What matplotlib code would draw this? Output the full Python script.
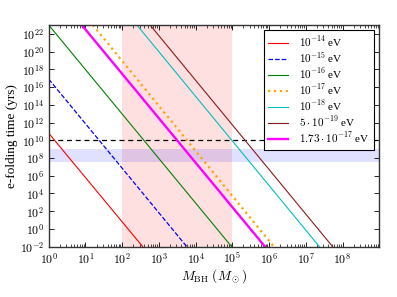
import numpy as np
import matplotlib
matplotlib.use("Agg")
import matplotlib.pyplot as plt
from matplotlib.ticker import LogLocator, NullLocator, FixedLocator

plt.rcParams['font.family'] = ['Liberation Serif', 'DejaVu Serif']
plt.rcParams['mathtext.fontset'] = 'cm'

# ---- data ----
labels = [r'$10^{-14}$ eV', r'$10^{-15}$ eV', r'$10^{-16}$ eV', r'$10^{-17}$ eV',
          r'$10^{-18}$ eV', r'$5\cdot10^{-19}$ eV', r'$1.73\cdot10^{-17}$ eV']
m_start = [1.0, 1.0, 1.0, 10**1.20, 10**2.40, 10**2.76, 10**0.90]
t_start = [10**10.8, 10**16.9, 1e23, 1e23, 1e23, 1e23, 1e23]
m_end = [10**2.56, 10**3.76, 10**4.98, 10**6.13, 10**7.37, 10**7.73, 10**5.89]
t_end = [1e-2, 1e-2, 1e-2, 1e-2, 1e-2, 1e-2, 1e-2]

colors = ['red', 'blue', 'green', 'orange', 'c', '#8b1a1a', 'magenta']
styles = ['-', '--', '-', ':', '-', '-', '-']
widths = [0.8, 0.9, 0.8, 1.6, 0.8, 0.8, 1.7]

mass_band = [1e2, 1e5]
time_band = [10**7.55, 1e9]
t_age = 1e10

xticks = [10.0**k for k in range(0, 9)]
yticks = [10.0**k for k in range(-2, 23, 2)]

fig = plt.figure(figsize=(3.97, 2.97), dpi=100)
ax = fig.add_axes([0.1227, 0.1694, 0.8327, 0.7464])

ax.axvspan(mass_band[0], mass_band[1], color='red', alpha=0.12, lw=0, zorder=0)
ax.axhspan(time_band[0], time_band[1], color='blue', alpha=0.12, lw=0, zorder=0)
ax.axhline(t_age, color='k', ls=(0, (4, 3)), lw=0.9, zorder=1)

for i in range(len(labels)):
    ax.plot([m_start[i], m_end[i]], [t_start[i], t_end[i]], color=colors[i],
            ls=styles[i], lw=widths[i], label=labels[i], zorder=2)

ax.set_xscale('log')
ax.set_yscale('log')
ax.set_xlim(1, 1e9)
ax.set_ylim(1e-2, 1e23)
ax.xaxis.set_major_locator(FixedLocator(xticks))
ax.xaxis.set_minor_locator(LogLocator(base=10, subs=np.arange(2, 10), numticks=30))
ax.yaxis.set_major_locator(FixedLocator(yticks))
ax.yaxis.set_minor_locator(NullLocator())
ax.set_xticklabels([r'$10^{%d}$' % k for k in range(0, 9)])
ax.set_yticklabels([r'$10^{%d}$' % k for k in range(-2, 23, 2)])
ax.tick_params(which='both', direction='in', top=True, right=True, labelsize=8.5)
ax.tick_params(which='major', length=3.5, width=0.6)
ax.tick_params(which='minor', length=2, width=0.5)
for s in ax.spines.values():
    s.set_linewidth(1.0)
    s.set_color('#333333')

ax.set_xlabel(r'$M_{\rm BH}\ (M_\odot)$', fontsize=9.5, labelpad=0)
ax.set_ylabel('e-folding time (yrs)', fontsize=9.5, labelpad=1)

leg = ax.legend(loc='upper right', fontsize=8, frameon=True, fancybox=False,
                edgecolor='k', framealpha=1, handlelength=1.8, handletextpad=1.0,
                labelspacing=0.12, borderaxespad=0.45, borderpad=0.4)
leg.get_frame().set_linewidth(0.8)

fig.savefig('out.png', dpi=100)
